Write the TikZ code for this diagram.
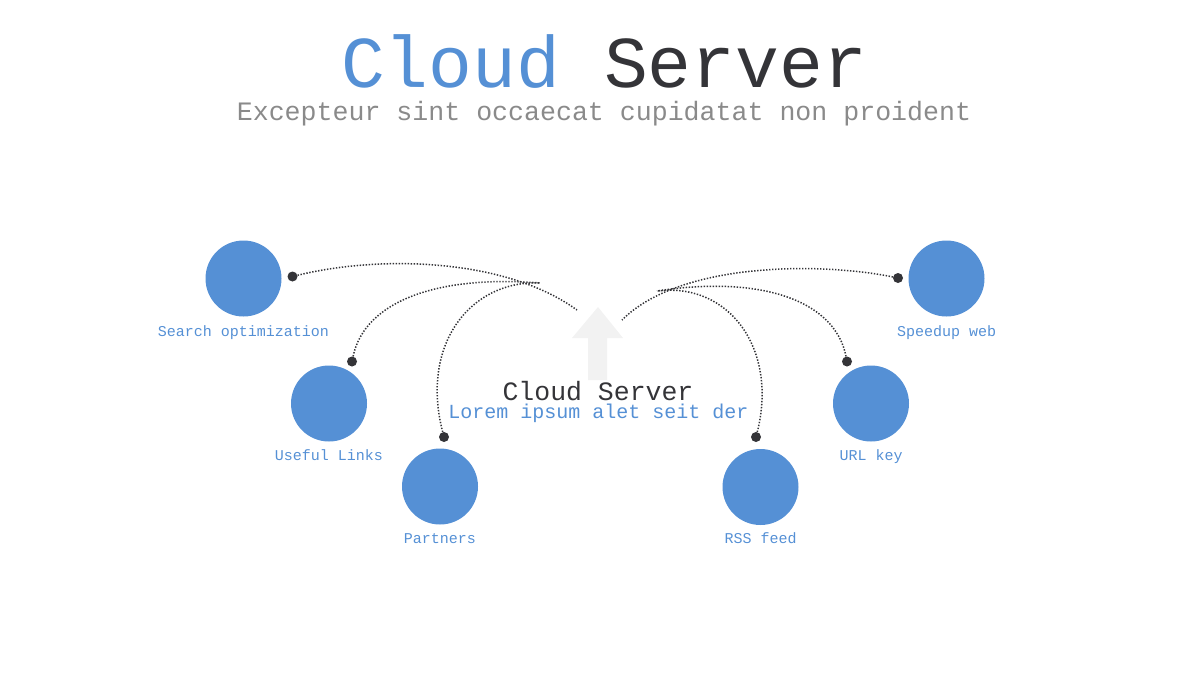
\documentclass[tikz,border=0pt]{standalone}
\usepackage{fontspec}
\setmainfont{Liberation Mono}
\usepackage{xcolor}
\definecolor{cloudblue}{HTML}{5590D5}
\definecolor{darktext}{HTML}{343438}
\definecolor{subgray}{HTML}{8A8A8A}
\definecolor{arrowgray}{HTML}{F2F2F2}
\tikzset{
  topic/.style={circle, fill=cloudblue, minimum size=76pt, inner sep=0pt},
  pin/.style={circle, fill=darktext, minimum size=10pt, inner sep=0pt},
  topiclabel/.style={anchor=base, inner sep=0pt, text=cloudblue, font=\fontsize{15}{18}\selectfont},
  link/.style={draw=darktext, line width=1.5pt, dash pattern=on 1.4pt off 1.6pt},
}

\begin{document}
\begin{tikzpicture}[x=1pt,y=-1pt]
            \useasboundingbox (0,0) rectangle (1200,675);

            % title and subtitle
            \node[anchor=base, inner sep=0pt, font=\fontsize{73}{80}\selectfont] (title) at (604,87)
                {\textcolor{cloudblue}{Cloud} \textcolor{darktext}{Server}};
            \node[anchor=base, inner sep=0pt, text=subgray, font=\fontsize{26.6}{30}\selectfont] (subtitle) at (604,120)
                {Excepteur sint occaecat cupidatat non proident};

            % the arrow in the middle
            \fill[arrowgray] (598,307) -- (623,338) -- (607,338) -- (607,380)
                -- (588,380) -- (588,338) -- (572,338) -- cycle;

            % text in the middle
            \node[anchor=base, inner sep=0pt, text=darktext, font=\fontsize{26.5}{30}\selectfont] (centre) at (598,400) {Cloud Server};
            \node[anchor=base, inner sep=0pt, text=cloudblue, font=\fontsize{20}{24}\selectfont] (lorem) at (598.5,418) {Lorem ipsum alet seit der};

            % the topics
            \node[topic] (seo) at (243.5,278.5) {};
            \node[topic] (links) at (329,403.5) {};
            \node[topic] (partners) at (440,486.5) {};
            \node[topic] (rss) at (760.5,487) {};
            \node[topic] (urlkey) at (871,403.5) {};
            \node[topic] (speedup) at (946.5,278.5) {};

            % labels under the topics
            \node[topiclabel] (seotext) at (243.5,336) {Search optimization};
            \node[topiclabel] (linkstext) at (329,460) {Useful Links};
            \node[topiclabel] (partnerstext) at (440,543) {Partners};
            \node[topiclabel] (rsstext) at (760.5,543) {RSS feed};
            \node[topiclabel] (urlkeytext) at (871,460) {URL key};
            \node[topiclabel] (speeduptext) at (946.5,336) {Speedup web};

            % the pins
            \node[pin] (seodot) at (292.5,276.5) {};
            \node[pin] (linksdot) at (352,361.5) {};
            \node[pin] (partnersdot) at (444,437) {};
            \node[pin] (rssdot) at (756,437) {};
            \node[pin] (urlkeydot) at (847,361.5) {};
            \node[pin] (speedupdot) at (898,278) {};

            % where the lines end
            \coordinate (seoend) at (577,310);
            \coordinate (leftend) at (540,283);
            \coordinate (speedupend) at (622,320);
            \coordinate (rightend) at (657,291);

            % dotted lines, left
            \draw[link] (seodot) .. controls (380,255) and (505,258) .. (seoend);
            \draw[link] (linksdot) .. controls (365,300) and (440,275) .. (leftend);
            \draw[link] (partnersdot) .. controls (420,345) and (470,280) .. (leftend);

            % dotted lines, right
            \draw[link] (speedupdot) .. controls (820,262) and (680,262) .. (speedupend);
            \draw[link] (urlkeydot) .. controls (835,300) and (760,275) .. (rightend);
            \draw[link] (rssdot) .. controls (778,350) and (730,282) .. (rightend);
        \end{tikzpicture}
\end{document}
